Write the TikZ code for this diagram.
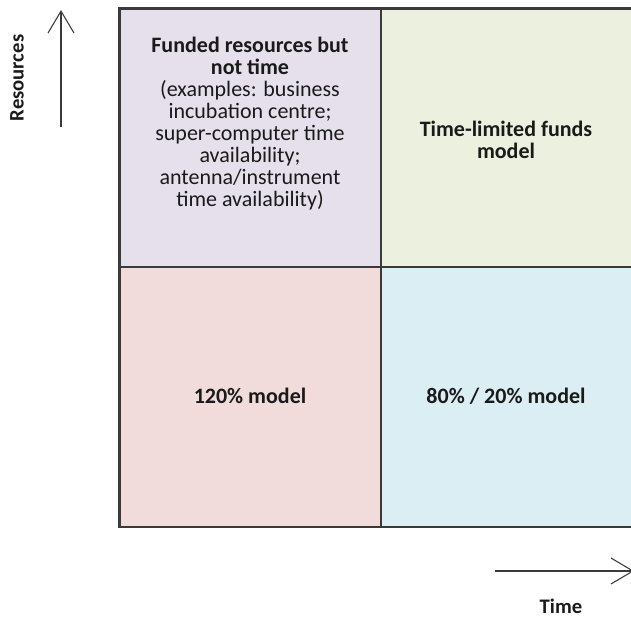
\documentclass[tikz,border=0pt]{standalone}
\usepackage{fontspec}
\setmainfont{Carlito}
\usetikzlibrary{arrows.meta}
\definecolor{cellpurple}{HTML}{E5E0EC}
\definecolor{cellgreen}{HTML}{EBF1DE}
\definecolor{cellpink}{HTML}{F2DCDB}
\definecolor{cellblue}{HTML}{DBEEF3}
\definecolor{gridline}{HTML}{3A3A3A}
\definecolor{inktext}{HTML}{1A1A1A}
\tikzset{
  celltext/.style={align=center, font=\fontsize{16.5}{16.5}\selectfont, text=inktext},
  cellhead/.style={celltext, font=\fontsize{16.5}{16.5}\selectfont\bfseries},
  axislabel/.style={font=\fontsize{15.5}{16}\selectfont\bfseries, text=inktext, inner sep=1pt},
  axisarrow/.style={draw=gridline, line width=0.8pt,
    -{Straight Barb[length=16.5pt, width=19.5pt, line width=0.8pt]}},
  gridborder/.style={draw=gridline, line width=1.6pt}
}
\begin{document}
\begin{tikzpicture}[x=0.75pt, y=-0.75pt]
\useasboundingbox (0,0) rectangle (631,619);
\clip (0,0) rectangle (631,619);

% quadrant fills
\fill[cellpurple] (119.5,8.5) rectangle (381,267);
\fill[cellgreen]  (381,8.5)   rectangle (640,267);
\fill[cellpink]   (119.5,267) rectangle (381,527);
\fill[cellblue]   (381,267)   rectangle (640,527);

% grid lines
\draw[gridborder] (640,8.5) -- (119.5,8.5) -- (119.5,527) -- (640,527);
\draw[gridborder] (381,8.5) -- (381,527);
\draw[gridborder] (119.5,267) -- (640,267);

% quadrant labels
\node[celltext] (q1) at (250,124) {\textbf{Funded resources but}\\ \textbf{not time}\\ (examples: business\\ incubation centre;\\ super-computer time\\ availability;\\ antenna/instrument\\ time availability)};
\node[cellhead] (q2) at (506,140) {Time-limited funds\\ model};
\node[cellhead] (q3) at (250,396) {120\%  model};
\node[cellhead] (q4) at (506,396) {80\%  / 20\% model};

% axes
\coordinate (ybase) at (61,127);
\coordinate (ytip)  at (61,10);
\coordinate (xbase) at (495,571);
\coordinate (xtip)  at (634,571);
\draw[axisarrow] (ybase) -- (ytip);
\draw[axisarrow] (xbase) -- (xtip);

\node[axislabel, rotate=90] (ylab) at (17,78) {Resources};
\node[axislabel] (xlab) at (561,606) {Time};
\end{tikzpicture}
\end{document}
